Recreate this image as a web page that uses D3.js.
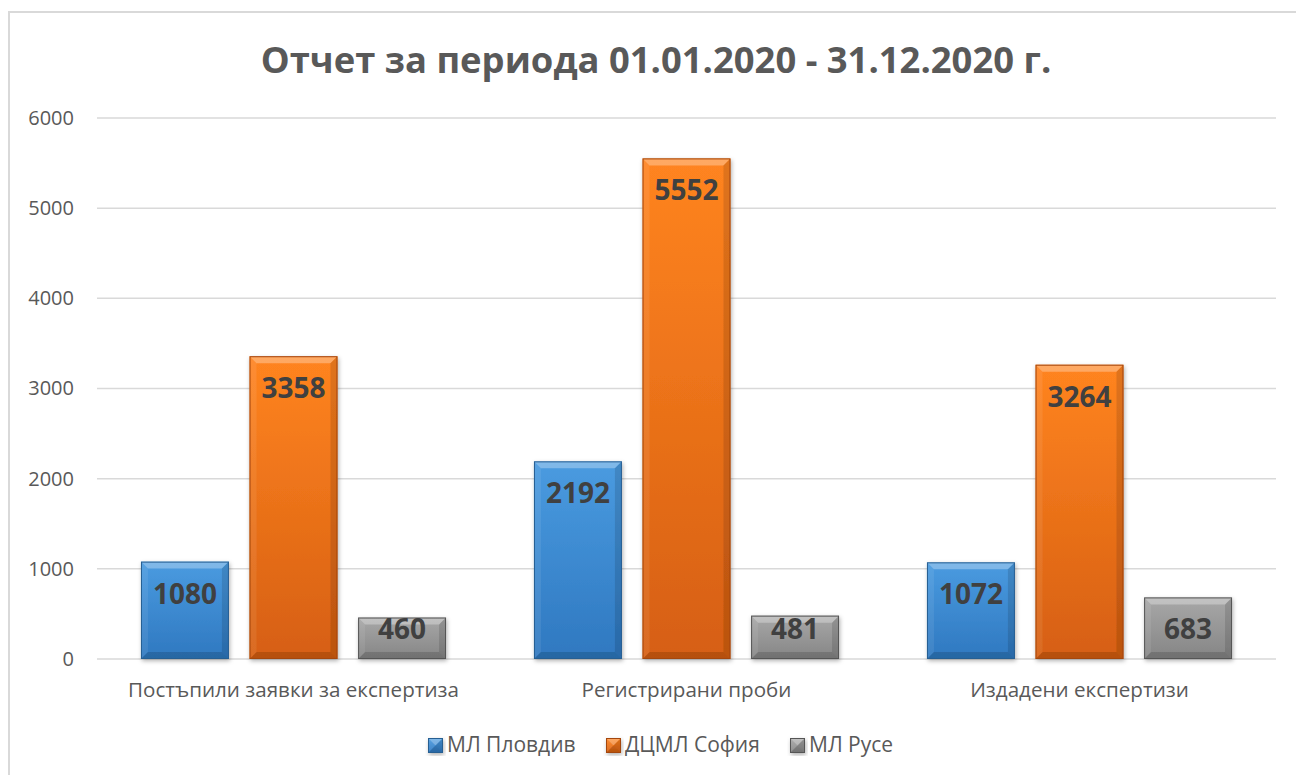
<!DOCTYPE html>
<html>
<head>
<meta charset="utf-8">
<script src="https://cdn.jsdelivr.net/npm/d3@7"></script>
<style>
  body { margin: 0; background: #fff; }
  text { font-family: "Open Sans", "Noto Sans", sans-serif; }
</style>
</head>
<body>
<div id="chart"></div>
<script>
// Chart data
const categories = ["Постъпили заявки за експертиза", "Регистрирани проби", "Издадени експертизи"];
const seriesNames = ["МЛ Пловдив", "ДЦМЛ София", "МЛ Русе"];
const plovdiv = [1080, 2192, 1072];
const sofia = [3358, 5552, 3264];
const ruse = [460, 481, 683];
const yTicks = [0, 1000, 2000, 3000, 4000, 5000, 6000];
const title = "Отчет за периода 01.01.2020 - 31.12.2020 г.";

// Bar colours: [top, bottom, outline]
const palette = [
  ["#4a9be0", "#2f78c0", "#285e92"],
  ["#ff8420", "#d65f12", "#a4460d"],
  ["#a8a8a8", "#858585", "#555555"]
];

const width = 1296, height = 775;
const margin = { left: 97, right: 1276, top: 118, bottom: 659 };

const svg = d3.select("#chart").append("svg")
  .attr("width", width)
  .attr("height", height);

const defs = svg.append("defs");
palette.forEach((c, i) => {
  const g = defs.append("linearGradient")
    .attr("id", "grad" + i)
    .attr("x1", 0).attr("y1", 0).attr("x2", 0).attr("y2", 1);
  g.append("stop").attr("offset", "0%").attr("stop-color", c[0]);
  g.append("stop").attr("offset", "100%").attr("stop-color", c[1]);
});
defs.append("filter").attr("id", "shadow")
  .attr("x", "-20%").attr("y", "-20%").attr("width", "140%").attr("height", "140%")
  .append("feDropShadow")
  .attr("dx", 1).attr("dy", 2).attr("stdDeviation", 2)
  .attr("flood-color", "#000").attr("flood-opacity", 0.3);

// Chart area border
svg.append("rect")
  .attr("x", 9).attr("y", 12)
  .attr("width", width + 20).attr("height", height + 20)
  .attr("fill", "none")
  .attr("stroke", "#d9d9d9")
  .attr("stroke-width", 2);

// Title
svg.append("text")
  .attr("x", 656)
  .attr("y", 73)
  .attr("text-anchor", "middle")
  .style("font-size", "36.4px")
  .style("font-weight", "700")
  .attr("fill", "#595959")
  .text(title);

// Scales
const x0 = d3.scaleBand()
  .domain(categories)
  .range([margin.left, margin.right]);

const x1 = d3.scaleBand()
  .domain(seriesNames)
  .range([0, x0.bandwidth()])
  .paddingInner(0.19)
  .paddingOuter(0.405);

const y = d3.scaleLinear()
  .domain([0, 6000])
  .range([margin.bottom, margin.top]);

// Gridlines
svg.append("g")
  .selectAll("line")
  .data(yTicks)
  .join("line")
  .attr("x1", margin.left)
  .attr("x2", margin.right)
  .attr("y1", d => y(d))
  .attr("y2", d => y(d))
  .attr("stroke", "#d9d9d9")
  .attr("stroke-width", 1.5);

// Y axis labels
const yAxis = d3.axisLeft(y).tickValues(yTicks).tickFormat(d3.format("d")).tickSize(0).tickPadding(0);
const yg = svg.append("g")
  .attr("transform", "translate(74,0)")
  .call(yAxis);
yg.select(".domain").remove();
yg.selectAll("text")
  .style("font-size", "20px")
  .attr("fill", "#595959");

// X axis labels
const xAxis = d3.axisBottom(x0).tickSize(0).tickPadding(0);
const xg = svg.append("g")
  .attr("transform", "translate(0,682)")
  .call(xAxis);
xg.select(".domain").remove();
xg.selectAll("text")
  .style("font-size", "20.6px")
  .attr("fill", "#595959");

// Draw a bevelled bar
function bevelBar(g, bx, by, bw, bh, i) {
  const c = palette[i];
  const b = Math.min(7, bh / 2, bw / 2);
  const bar = g.append("g").attr("filter", "url(#shadow)");
  bar.append("rect")
    .attr("x", bx).attr("y", by)
    .attr("width", bw).attr("height", bh)
    .attr("fill", `url(#grad${i})`);
  // top facet
  bar.append("polygon")
    .attr("points", [[bx, by], [bx + bw, by], [bx + bw - b, by + b], [bx + b, by + b]].join(" "))
    .attr("fill", "#fff").attr("fill-opacity", 0.3);
  // left facet
  bar.append("polygon")
    .attr("points", [[bx, by], [bx + b, by + b], [bx + b, by + bh - b], [bx, by + bh]].join(" "))
    .attr("fill", "#fff").attr("fill-opacity", 0.08);
  // right facet
  bar.append("polygon")
    .attr("points", [[bx + bw, by], [bx + bw - b, by + b], [bx + bw - b, by + bh - b], [bx + bw, by + bh]].join(" "))
    .attr("fill", "#000").attr("fill-opacity", 0.12);
  // bottom facet
  bar.append("polygon")
    .attr("points", [[bx, by + bh], [bx + b, by + bh - b], [bx + bw - b, by + bh - b], [bx + bw, by + bh]].join(" "))
    .attr("fill", "#000").attr("fill-opacity", 0.15);
  bar.append("rect")
    .attr("x", bx + 0.5).attr("y", by + 0.5)
    .attr("width", bw - 1).attr("height", bh - 1)
    .attr("fill", "none")
    .attr("stroke", c[2]).attr("stroke-width", 1);
}

// Bars
const series = [plovdiv, sofia, ruse];
series.forEach((vals, i) => {
  vals.forEach((v, j) => {
    const bx = x0(categories[j]) + x1(seriesNames[i]);
    const by = y(v);
    bevelBar(svg, bx, by, x1.bandwidth(), y(0) - by, i);
  });
});

// Data labels (inside end)
series.forEach((vals, i) => {
  vals.forEach((v, j) => {
    const cx = x0(categories[j]) + x1(seriesNames[i]) + x1.bandwidth() / 2;
    const base = Math.min(y(v) + 42, y(0) - 20);
    svg.append("text")
      .attr("x", cx)
      .attr("y", base)
      .attr("text-anchor", "middle")
      .style("font-size", "28px")
      .style("font-weight", "700")
      .attr("fill", "#404040")
      .text(v);
  });
});

// Legend
const legendX = [428, 606, 790];
const legend = svg.append("g");
seriesNames.forEach((name, i) => {
  bevelBar(legend, legendX[i], 738, 15, 15, i);
  legend.append("text")
    .attr("x", legendX[i] + 19)
    .attr("y", 752)
    .style("font-size", "21px")
    .attr("fill", "#595959")
    .text(name);
});
</script>
</body>
</html>
